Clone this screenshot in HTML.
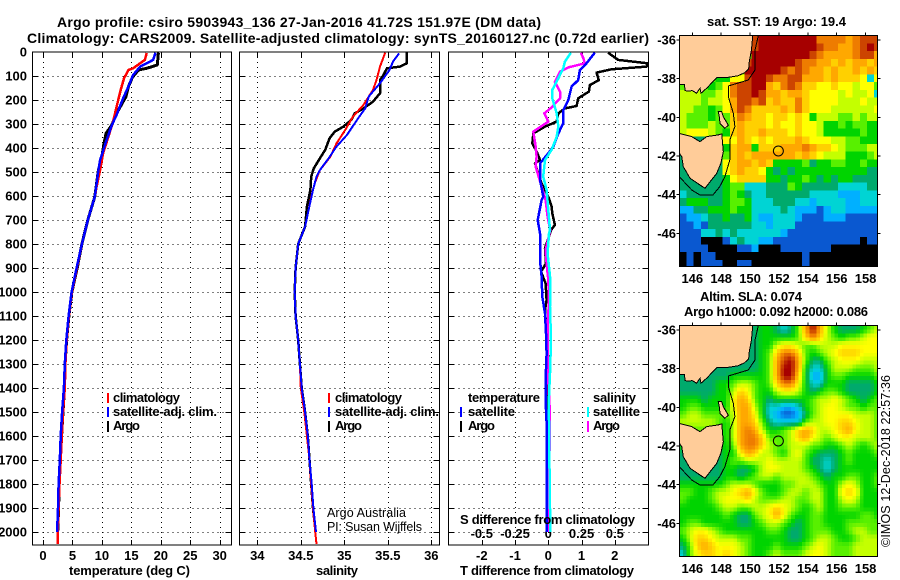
<!DOCTYPE html>
<html lang="en">
<head>
<meta charset="utf-8">
<title>Argo profile csiro 5903943_136</title>
<style>
html,body{margin:0;padding:0;background:#fff;}
svg{display:block;}
text{font-family:"Liberation Sans",sans-serif;fill:#000;}
.b{font-weight:bold;font-size:13px;}
.t{font-weight:bold;font-size:14px;}
.n{font-size:12.5px;}
</style>
</head>
<body>
<svg id="chart" xmlns="http://www.w3.org/2000/svg" width="900" height="580" viewBox="0 0 900 580">
<rect x="0" y="0" width="900" height="580" fill="#fff"/>
<defs>
<clipPath id="clip-t"><rect x="32.5" y="52" width="198.5" height="493"/></clipPath>
<clipPath id="clip-s"><rect x="239.5" y="52" width="200" height="493"/></clipPath>
<clipPath id="clip-d"><rect x="448.5" y="52" width="200" height="493"/></clipPath>
<clipPath id="clip-m1"><rect x="679.5" y="35.7" width="198" height="231"/></clipPath>
<clipPath id="clip-m2"><rect x="679.5" y="325.7" width="198" height="231"/></clipPath>
</defs>

<text class="t" x="57" y="27" textLength="484" lengthAdjust="spacing">Argo profile: csiro 5903943_136 27-Jan-2016 41.72S 151.97E (DM data)</text>
<text class="t" x="27" y="43" textLength="622" lengthAdjust="spacing">Climatology: CARS2009. Satellite-adjusted climatology: synTS_20160127.nc (0.72d earlier)</text>

<g id="layer-maps"></g>
<g id="layer-axes"></g>
<g id="layer-lines"></g>

<text class="b" x="69" y="575" textLength="121" lengthAdjust="spacing">temperature (deg C)</text>
<text class="b" x="316" y="575" textLength="42" lengthAdjust="spacing">salinity</text>
<text class="b" x="460" y="575" textLength="174" lengthAdjust="spacing">T difference from climatology</text>
<text class="b" x="460" y="524" textLength="175" lengthAdjust="spacing">S difference from climatology</text>

<g>
<rect x="107" y="393" width="2" height="10" fill="#f00"/>
<rect x="107" y="407" width="2" height="10" fill="#00f"/>
<rect x="107" y="421" width="2" height="11" fill="#000"/>
<text class="b" x="113" y="402" textLength="67" lengthAdjust="spacing">climatology</text>
<text class="b" x="113" y="416" textLength="104" lengthAdjust="spacing">satellite-adj. clim.</text>
<text class="b" x="113" y="430" textLength="27" lengthAdjust="spacing">Argo</text>
</g>
<g>
<rect x="328" y="393" width="2" height="10" fill="#f00"/>
<rect x="328" y="407" width="2" height="10" fill="#00f"/>
<rect x="328" y="421" width="2" height="11" fill="#000"/>
<text class="b" x="335" y="402" textLength="67" lengthAdjust="spacing">climatology</text>
<text class="b" x="335" y="416" textLength="104" lengthAdjust="spacing">satellite-adj. clim.</text>
<text class="b" x="335" y="430" textLength="27" lengthAdjust="spacing">Argo</text>
</g>
<g>
<text class="b" x="468" y="402" textLength="72" lengthAdjust="spacing">temperature</text>
<rect x="460" y="407" width="2" height="10" fill="#00f"/>
<rect x="460" y="421" width="2" height="11" fill="#000"/>
<text class="b" x="468" y="416" textLength="47" lengthAdjust="spacing">satellite</text>
<text class="b" x="468" y="430" textLength="27" lengthAdjust="spacing">Argo</text>
<text class="b" x="593" y="402" textLength="43" lengthAdjust="spacing">salinity</text>
<rect x="587" y="407" width="2" height="10" fill="#0ff"/>
<rect x="587" y="421" width="2" height="11" fill="#f0f"/>
<text class="b" x="593" y="416" textLength="47" lengthAdjust="spacing">satellite</text>
<text class="b" x="593" y="430" textLength="27" lengthAdjust="spacing">Argo</text>
</g>
<text class="n" x="327" y="517" textLength="79" lengthAdjust="spacing">Argo Australia</text>
<text class="n" x="327" y="531" textLength="95" lengthAdjust="spacing">PI: Susan Wijffels</text>

<text class="b" x="707" y="26" textLength="139" lengthAdjust="spacing">sat. SST: 19 Argo: 19.4</text>
<text class="b" x="700" y="301" textLength="102" lengthAdjust="spacing">Altim. SLA: 0.074</text>
<text class="b" x="684" y="316" textLength="184" lengthAdjust="spacing">Argo h1000: 0.092 h2000: 0.086</text>
<text class="n" x="890" y="547" transform="rotate(-90 890 547)" textLength="172" lengthAdjust="spacing">©IMOS 12-Dec-2018 22:57:36</text>
</svg>

<script>
// ---- Temperature profile data ----
const tempArgoDepth = [3,54,68,75,105,144,186,225,269,304,339,380,436,492,603,700,800,900,1000,1100,1200,1300,1400,1500,1600,1700,1800,1900,2000];
const tempArgo = [19.6,19.4,17.6,16.2,15.2,14.5,14.1,13.2,12.2,11.7,10.7,10.35,10,9.4,8.8,7.6,6.6,5.8,4.9,4.4,4.0,3.75,3.65,3.4,3.15,2.95,2.75,2.65,2.5];
const tempClimDepth = [4,33,68,75,110,158,228,290,353,422,492,561,603,700,800,900,1000,1100,1200,1300,1400,1500,1600,1700,1800,1900,2000,2050];
const tempClim = [17.6,17.3,15.3,14.5,13.75,13.2,12.5,11.9,11.1,10.2,9.7,9.1,8.8,7.6,6.6,5.75,4.9,4.4,4.0,3.8,3.7,3.4,3.2,3.0,2.8,2.65,2.5,2.5];
const tempSatDepth = [3,33,47,61,96,144,193,262,304,367,450,492,603,700,800,900,1000,1100,1200,1300,1400,1500,1600,1700,1800,1900,2000];
const tempSat = [19.1,18.7,17.6,16.5,15.3,14.5,13.6,12.5,11.7,10.8,9.7,9.4,8.8,7.6,6.6,5.7,4.85,4.35,3.95,3.7,3.55,3.25,3.0,2.85,2.65,2.55,2.4];

// ---- Salinity profile data ----
const salArgoDepth = [3,47,61,68,96,117,172,207,235,256,283,311,332,360,408,443,485,519,575,644,728,800,900,1000,1100,1200,1300,1400,1500,1600,1700,1800,1900,2000];
const salArgo = [35.72,35.72,35.64,35.49,35.45,35.41,35.41,35.33,35.22,35.12,35.08,34.99,34.89,34.83,34.78,34.72,34.65,34.62,34.61,34.57,34.55,34.47,34.44,34.43,34.44,34.47,34.49,34.51,34.55,34.58,34.6,34.62,34.64,34.67];
const salClimDepth = [3,61,117,158,221,269,325,381,436,492,547,603,658,728,800,900,1000,1100,1200,1300,1400,1500,1600,1700,1800,1900,2000,2050];
const salClim = [35.47,35.41,35.37,35.33,35.22,35.1,35.01,34.91,34.84,34.72,34.66,34.62,34.59,34.55,34.47,34.44,34.43,34.44,34.47,34.49,34.5,34.54,34.57,34.6,34.62,34.64,34.665,34.68];
const salSatDepth = [6,40,75,130,186,235,276,346,394,443,492,519,575,658,728,800,900,1000,1100,1200,1300,1400,1500,1600,1700,1800,1900,2000];
const salSat = [35.63,35.56,35.52,35.41,35.28,35.24,35.16,35.03,34.91,34.82,34.72,34.68,34.64,34.59,34.55,34.47,34.44,34.43,34.44,34.47,34.49,34.51,34.55,34.58,34.6,34.625,34.645,34.675];

// ---- Difference panel data ----
const diffTArgoDepth = [3,33,47,61,72,86,117,138,165,193,225,235,256,290,311,339,381,415,450,464,506,547,603,644,672,721,742,818,881,915,964,1033,1075,1172,1283,1394,1600,2000];
const diffTArgo = [1.8,2.1,2.99,2.96,1.9,1.45,1.52,1.25,1.22,0.9,0.85,0.5,0.3,0.25,-0.1,-0.45,-0.48,-0.35,-0.25,-0.4,-0.3,-0.2,0,0.1,0.12,0.2,0.08,-0.1,-0.07,-0.22,-0.08,-0.05,-0.1,-0.05,0,-0.02,-0.03,-0.03];
const diffTSatDepth = [3,47,75,117,144,200,242,297,339,394,422,464,533,603,617,700,756,867,936,1019,1089,1172,1256,1367,1450,1547,2000];
const diffTSat = [1.4,1.15,0.95,0.9,0.7,0.6,0.45,0.45,0.3,0.15,0,-0.25,-0.25,-0.15,-0.2,-0.32,-0.25,-0.25,-0.2,-0.18,-0.1,-0.07,-0.05,-0.08,-0.08,-0.05,-0.05];
const diffSArgoDepth = [3,26,47,64,82,124,165,193,231,256,290,318,332,394,436,478,506,561,617,686,742,825,881,950,1033,1144,1242,1367,1506,1587,1740,2000];
const diffSArgo = [0.245,0.263,0.275,0.15,0.088,0.05,0.088,0.088,0.025,-0.03,0,-0.075,-0.113,-0.095,-0.088,-0.095,-0.08,-0.05,-0.02,-0.005,0.015,-0.02,-0.013,0,0.005,-0.005,-0.005,0,0.012,0.012,0.006,0.004];
const diffSSatDepth = [3,40,68,110,158,193,256,311,353,408,450,519,575,658,742,756,839,936,1061,1200,1339,1450,1700,2000];
const diffSSat = [0.17,0.125,0.113,0.075,0.03,0.03,0.063,0.075,0.063,0.025,-0.025,-0.038,-0.013,0,0.013,0.005,-0.005,0.013,0.013,0.02,0.013,0.004,0.008,0.015];

// ---- Axis tick labels ----
const depthTicks = [0,100,200,300,400,500,600,700,800,900,1000,1100,1200,1300,1400,1500,1600,1700,1800,1900,2000];
const tempTicks = [0,5,10,15,20,25,30];
const salTicks = [34,34.5,35,35.5,36];
const diffTTicks = [-2,-1,0,1,2];
const diffSTicks = [-0.5,-0.25,0,0.25,0.5];
const lonTicks = [146,148,150,152,154,156,158];
const latTicks = [-36,-38,-40,-42,-44,-46];

// ---- Map data: one character per cell, 0.5 deg lon x 0.4 deg lat, x = under land ----
const sstRows = [
"xxxxxxxxxx c dddddddd bbbbabccc",
"xxxxxxxxxx c dddddddd cbbaabcdc",
"xxxxxxxxxx d ddddddd c baaaabcca",
"xxxxxxxxx c d ddddd c bb aa9a9aa9a",
"xxxxxxxxx dd ddd cbc ba a9a99a9a9",
"xxxxx 55 88 c dd cbbcc aaa 9a999838",
"xxxx568bcc dda9bcb998 89887886",
"7776678bcc dcaa9aa988 88787783",
"7776778acc bc9a99b988 88777877",
"7766568acb 9999a9b988 87777778",
"76665xx9ba 9989989857 77667677",
"76667xx9a9 9989889887 55656655",
"78887x59a9 9a99989887 55555655",
"xxxxxx88a9 898999a988 87766555",
"xxxxxx59aa 5999aaaba9 98766677",
"xxxxxx69a9 aaaaaa9a98 77755567",
"4xxxxx89aa 9a95555645 56655655",
"4xxxxx89a9 9854545555 55555544",
"44xxxx5899 9955455654 54554444",
"444xx45663 3344465444 44333344",
"3444445654 3344444433 33222333",
"4555445665 3334443323 33322333",
"2244555655 3333432221 23322222",
"1223445445 3223332111 22211111",
"1121444444 3323331111 11111111",
"1113343433 3333211111 11111111",
"1110001343 3221111111 11111011",
"1111000011 2000111111 10000000",
"0101100000 0000000100 00000000",
"0101110011 0000000100 00000000"
];
const slaRows = [
"4444444444 4554346ada 75444567",
"4444444444 45555569b9 76566788",
"4444444444 4557887667 77888888",
"4444444444 4569bb9656 78999888",
"4444444444 456acda644 67888777",
"4444444444 456adda533 57776667",
"4444444555 556add9522 56655556",
"4444455677 6569bb8533 55544445",
"4444455798 6557887545 66544445",
"55545558a9 6545555567 78765456",
"56655558aa 7533223567 88766566",
"67766667aa 8532112467 88887776",
"77777657aa 9643333677 88998776",
"66666657ab a755679a97 789a8776",
"66666657ab b966679a87 67887776",
"55555556ab b976677766 55676567",
"444444558a 9776578654 44565556",
"4444445667 7787777644 34565555",
"4444445544 5788777654 34555555",
"4444445545 6776777765 45566556",
"5555556777 6555667776 55787556",
"665567789a 8655677677 55898555",
"6555678889 7666776677 55787555",
"5555567766 7789876567 55666555",
"5555556544 678a865566 55555665",
"5665555544 5677654566 55566666",
"6788765555 5566544566 65567766",
"5799877766 5555544567 76556777",
"469a988876 5556555678 76667777",
"3689989876 5567666788 76667777"
];

// ---- Coastline and 200 m contour, degrees ----
const mainlandLon = [145.1,150.18,150.1,149.95,149.9,149.6,149.16,148.5,147.71,147.02,146.6,146.53,146.3,146.0,145.7,145.5,145.45,145.1];
const mainlandLat = [-35.78,-35.78,-36.5,-37.12,-37.5,-37.7,-37.85,-37.93,-37.93,-38.48,-38.75,-38.5,-38.75,-38.62,-38.65,-38.62,-38.3,-38.3];
const tasmaniaLon = [145.1,145.96,146.53,147.0,147.8,148.04,148.15,147.99,147.69,147.23,146.88,146.53,145.84,145.38,145.27,145.1];
const tasmaniaLat = [-40.83,-41.0,-41.26,-41.0,-40.91,-40.86,-41.78,-42.36,-42.9,-43.33,-43.67,-43.5,-43.15,-42.55,-42.04,-41.85];
const flindersLon = [147.8,148.03,148.15,148.49,148.26,147.92,147.87];
const flindersLat = [-39.71,-39.71,-39.97,-40.4,-40.57,-40.31,-39.97];
const contourLon = [150.57,150.34,150.34,149.88,148.49,148.49,148.84,148.95,148.6,148.6,148.26,147.9,147.43,146.53,145.96,145.1];
const contourLat = [-35.78,-36.52,-37.55,-38.07,-38.38,-38.93,-39.79,-40.48,-41.17,-42.21,-43.07,-43.59,-44.02,-44.02,-43.76,-43.07];
const floatLon = [151.96];
const floatLat = [-41.74];

const paletteColors = ["#000000","#0a58d0","#00b0ff","#00d4d4","#00aa6c","#00d400","#58f000","#c4ff00","#ffff00","#ffd000","#ffa800","#ee7c00","#cc4400","#a60000"];

// ---- Axis functions ----
const SVGNS = "http://www.w3.org/2000/svg";
const xTemp = v => 43 + 5.89 * v;
const xSal = v => 257.3 + 87 * (v - 34);
const xDiffT = v => 548.3 + 33.25 * v;
const xDiffS = v => 548.3 + 133 * v;
const yDepth = d => 52 + 0.24 * d;
const xLon = v => 692.3 + 14.44 * (v - 146);
const yLat = (v, top) => top + 4.3 + 19.33 * (-36 - v);

function make(tag, attrs, parent) {
  const e = document.createElementNS(SVGNS, tag);
  for (const k in attrs) e.setAttribute(k, attrs[k]);
  parent.appendChild(e);
  return e;
}
function label(str, x, y, anchor, parent) {
  const e = make("text", {x: x, y: y, "text-anchor": anchor, "class": "b"}, parent);
  e.textContent = str;
  return e;
}
function polyPoints(xs, ys, fx, fy) {
  return xs.map((v, i) => fx(v).toFixed(1) + "," + fy(ys[i]).toFixed(1)).join(" ");
}

const axes = document.getElementById("layer-axes");
const lines = document.getElementById("layer-lines");
const maps = document.getElementById("layer-maps");

// ---- Profile panel frames, grids, ticks ----
function drawPanel(name, left, right, xTicks, xf, xLabels) {
  const g = make("g", {}, axes);
  
  
  const top = 52, bottom = 545;
  depthTicks.forEach(function (d) {
    const y = Math.round(yDepth(d)) + 0.5;
    if (d > 0) {
      const grid = make("line", {x1: left, x2: right, y1: y, y2: y, stroke: "#000", "stroke-width": 1, "stroke-dasharray": "1 4", "shape-rendering": "crispEdges"}, g);
      
      
      const tl = make("line", {x1: left, x2: left + 6, y1: y, y2: y, stroke: "#000", "shape-rendering": "crispEdges"}, g);
      
      
      const tr = make("line", {x1: right - 6, x2: right, y1: y, y2: y, stroke: "#000", "shape-rendering": "crispEdges"}, g);
      
      
    }
  });
  xTicks.forEach(function (t, i) {
    const x = Math.round(xf(t)) + 0.5;
    const grid = make("line", {x1: x, x2: x, y1: top, y2: bottom, stroke: "#000", "stroke-width": 1, "stroke-dasharray": "1 4", "shape-rendering": "crispEdges"}, g);
    
    
    const tb = make("line", {x1: x, x2: x, y1: bottom - 5, y2: bottom, stroke: "#000", "shape-rendering": "crispEdges"}, g);
    
    
    const tt = make("line", {x1: x, x2: x, y1: top, y2: top + 5, stroke: "#000", "shape-rendering": "crispEdges"}, g);
    
    
    const lab = label(String(xLabels[i]), xf(t), 560, "middle", g);
    
    
  });
  const frame = make("rect", {x: left, y: top, width: right - left, height: bottom - top, fill: "none", stroke: "#000", "stroke-width": 1, "shape-rendering": "crispEdges"}, g);
  
  
}
drawPanel("temperature-panel", 32.5, 231.5, tempTicks, xTemp, tempTicks);
drawPanel("salinity-panel", 239.5, 439.5, salTicks, xSal, salTicks);
drawPanel("difference-panel", 448.5, 648.5, diffTTicks, xDiffT, diffTTicks);

depthTicks.forEach(function (d) {
  const lab = label(String(d), 27, yDepth(d) + 4.5, "end", axes);
  
  
});
diffSTicks.forEach(function (v) {
  const lab = label(String(v), xDiffS(v), 538, "middle", axes);
  
  
});

// ---- Profile lines ----
function drawLine(vals, depths, xf, color, width, clip) {
  return make("polyline", {
    points: polyPoints(vals, depths, xf, yDepth),
    fill: "none", stroke: color, "stroke-width": width,
    "stroke-linejoin": "round", "shape-rendering": "crispEdges", "clip-path": "url(#" + clip + ")"
  }, lines);
}
const l1 = drawLine(tempArgo, tempArgoDepth, xTemp, "#000", 3, "clip-t");


const l2 = drawLine(tempClim, tempClimDepth, xTemp, "#f00", 2.5, "clip-t");


const l3 = drawLine(tempSat, tempSatDepth, xTemp, "#00f", 2.5, "clip-t");


const l4 = drawLine(salArgo, salArgoDepth, xSal, "#000", 2.5, "clip-s");


const l5 = drawLine(salClim, salClimDepth, xSal, "#f00", 2, "clip-s");


const l6 = drawLine(salSat, salSatDepth, xSal, "#00f", 2, "clip-s");


const l7 = drawLine(diffTArgo, diffTArgoDepth, xDiffT, "#000", 2.5, "clip-d");


const l8 = drawLine(diffSArgo, diffSArgoDepth, xDiffS, "#f0f", 2.5, "clip-d");


const l9 = drawLine(diffTSat, diffTSatDepth, xDiffT, "#00f", 2.5, "clip-d");


const l10 = drawLine(diffSSat, diffSSatDepth, xDiffS, "#0ff", 2.5, "clip-d");



// ---- Maps ----
function cellsOf(rows) {
  return rows.map(r => r.replace(/ /g, ""));
}
function colorAt(v) {
  const lo = Math.max(0, Math.min(13, Math.floor(v)));
  const hi = Math.min(13, lo + 1);
  const f = v - lo;
  const a = paletteColors[lo], b = paletteColors[hi];
  const ch = s => [1, 3, 5].map(i => parseInt(s.substr(i, 2), 16));
  const ca = ch(a), cb = ch(b);
  return "rgb(" + ca.map((c, i) => Math.round(c + (cb[i] - c) * f)).join(",") + ")";
}
function frameAndOverlays(g, top, name) {
  const yf = v => yLat(v, top);
  const clip = make("g", {"clip-path": "url(#" + name + ")"}, g);
  
  
  const land1 = make("polygon", {points: polyPoints(mainlandLon, mainlandLat, xLon, yf), fill: "#ffcc99", stroke: "#000", "stroke-width": 1, "shape-rendering": "crispEdges"}, clip);
  
  
  const land2 = make("polygon", {points: polyPoints(tasmaniaLon, tasmaniaLat, xLon, yf), fill: "#ffcc99", stroke: "#000", "stroke-width": 1, "shape-rendering": "crispEdges"}, clip);
  
  
  const land3 = make("polygon", {points: polyPoints(flindersLon, flindersLat, xLon, yf), fill: "#ffcc99", stroke: "#000", "stroke-width": 1, "shape-rendering": "crispEdges"}, clip);
  
  
  const contour = make("polyline", {points: polyPoints(contourLon, contourLat, xLon, yf), fill: "none", stroke: "#000", "stroke-width": 1, "shape-rendering": "crispEdges"}, clip);
  
  
  const marker = make("circle", {cx: xLon(floatLon[0]), cy: yf(floatLat[0]), r: 5, fill: "none", stroke: "#000", "stroke-width": 1}, clip);
  
  
  const boxTop = top, boxBottom = boxTop + 231;
  const frame = make("rect", {x: 679.5, y: boxTop, width: 198, height: 231, fill: "none", stroke: "#000", "shape-rendering": "crispEdges"}, g);
  
  
  lonTicks.forEach(function (v) {
    const t = make("line", {x1: xLon(v), x2: xLon(v), y1: boxTop - 3, y2: boxTop, stroke: "#000", "shape-rendering": "crispEdges"}, g);
    
    
    const lab = label(String(v), xLon(v), boxBottom + 16.5, "middle", g);
    
    
  });
  latTicks.forEach(function (v) {
    const a = make("line", {x1: 676.5, x2: 679.5, y1: yf(v), y2: yf(v), stroke: "#000", "shape-rendering": "crispEdges"}, g);
    
    
    const b = make("line", {x1: 877.5, x2: 880.5, y1: yf(v), y2: yf(v), stroke: "#000", "shape-rendering": "crispEdges"}, g);
    
    
    const lab = label(String(v), 676, yf(v) + 4.5, "end", g);
    
    
  });
}

// SST map: one rectangle per grid cell
const sstGroup = make("g", {"clip-path": "url(#clip-m1)", "shape-rendering": "crispEdges"}, maps);


const sstGrid = cellsOf(sstRows);
sstGrid.forEach(function (row, j) {
  row.split("").forEach(function (ch, i) {
    const code = ch === "x" ? (j >= 13 ? 4 : 6) : parseInt(ch, 16);
    const lon = 145.1 + 0.5 * i;
    const lat = -35.78 - 0.4 * j;
    const cell = make("rect", {
      x: xLon(lon).toFixed(1), y: yLat(lat, 35.7).toFixed(1),
      width: 7.6, height: 8.1, fill: colorAt(code)
    }, sstGroup);
    
    
  });
});

// SLA map: field values sampled smoothly between grid cell centres
const slaGroup = make("g", {"clip-path": "url(#clip-m2)", "shape-rendering": "crispEdges"}, maps);


const slaGrid = cellsOf(slaRows).map(r => r.split("").map(c => parseInt(c, 16)));
function slaAt(u, v) {
  const cu = Math.max(0, Math.min(26.999, u));
  const cv = Math.max(0, Math.min(slaGrid.length - 1.001, v));
  const i = Math.floor(cu), j = Math.floor(cv), a = cu - i, b = cv - j;
  return slaGrid[j][i] * (1 - a) * (1 - b) + slaGrid[j][i + 1] * a * (1 - b) + slaGrid[j + 1][i] * (1 - a) * b + slaGrid[j + 1][i + 1] * a * b;
}
for (let j2 = 0; j2 < 60; j2++) {
  for (let i2 = 0; i2 < 56; i2++) {
    const lon2 = 145.1 + 0.25 * i2;
    const lat2 = -35.78 - 0.2 * j2;
    const cell2 = make("rect", {
      x: xLon(lon2).toFixed(1), y: yLat(lat2, 325.7).toFixed(1),
      width: 4, height: 4.3,
      fill: colorAt(slaAt((i2 + 0.5) / 2 - 0.5, (j2 + 0.5) / 2 - 0.5))
    }, slaGroup);
    
    
  }
}

const over1 = make("g", {}, maps);


frameAndOverlays(over1, 35.7, "clip-m1");
const over2 = make("g", {}, maps);


frameAndOverlays(over2, 325.7, "clip-m2");
</script>
</body>
</html>
